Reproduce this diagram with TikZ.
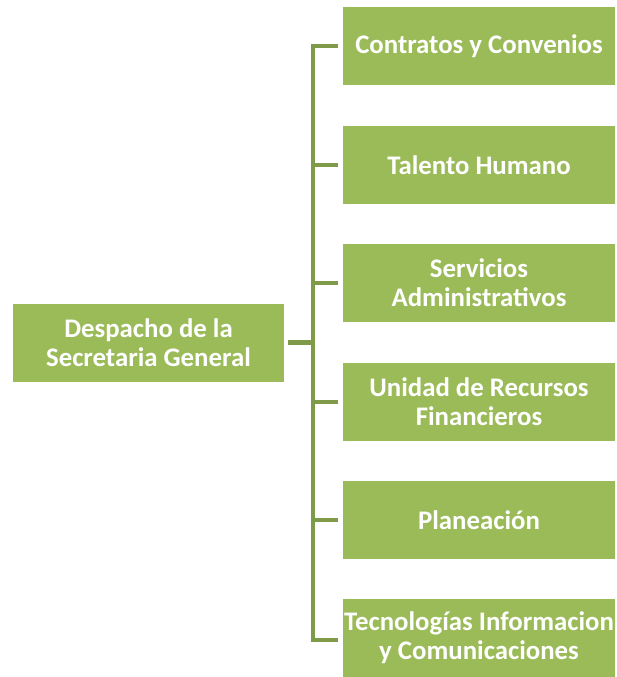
\documentclass[tikz,border=0pt]{standalone}
\usepackage{fontspec}
\setmainfont{Carlito}
\definecolor{boxgreen}{HTML}{9BBB59}
\definecolor{linegreen}{HTML}{7F9A48}
\begin{document}
\begin{tikzpicture}[x=1pt,y=-1pt,
  orgbox/.style={fill=boxgreen, draw=none, text=white, font=\bfseries\fontsize{26.8}{29}\selectfont, align=center, minimum height=78pt, inner sep=0pt},
  conn/.style={draw=linegreen, line width=4.5pt}]
\useasboundingbox (0,0) rectangle (617,677);
\node[orgbox, minimum width=271pt] (root) at (148.5,342.5) {Despacho de la\\Secretaria General};
\node[orgbox, minimum width=272pt] (b1) at (479,46) {Contratos y Convenios};
\node[orgbox, minimum width=272pt] (b2) at (479,165) {Talento Humano};
\node[orgbox, minimum width=272pt] (b3) at (479,283) {Servicios\\Administrativos};
\node[orgbox, minimum width=272pt] (b4) at (479,402) {Unidad de Recursos\\Financieros};
\node[orgbox, minimum width=272pt] (b5) at (479,520) {Planeación};
\node[orgbox, minimum width=272pt] (b6) at (479,638) {Tecnologías Informacion\\y Comunicaciones};
\coordinate (trunk) at (313,342.5);
\draw[conn] ([xshift=4pt]root.east) -- (trunk);
\draw[conn] ([xshift=-5pt]b1.west) -| (313,640) -- ([xshift=-5pt]b6.west|-313,640);
\foreach \b in {b2,b3,b4,b5}{
  \draw[conn] (trunk|-\b.west) -- ([xshift=-5pt]\b.west);
}
\end{tikzpicture}
\end{document}
